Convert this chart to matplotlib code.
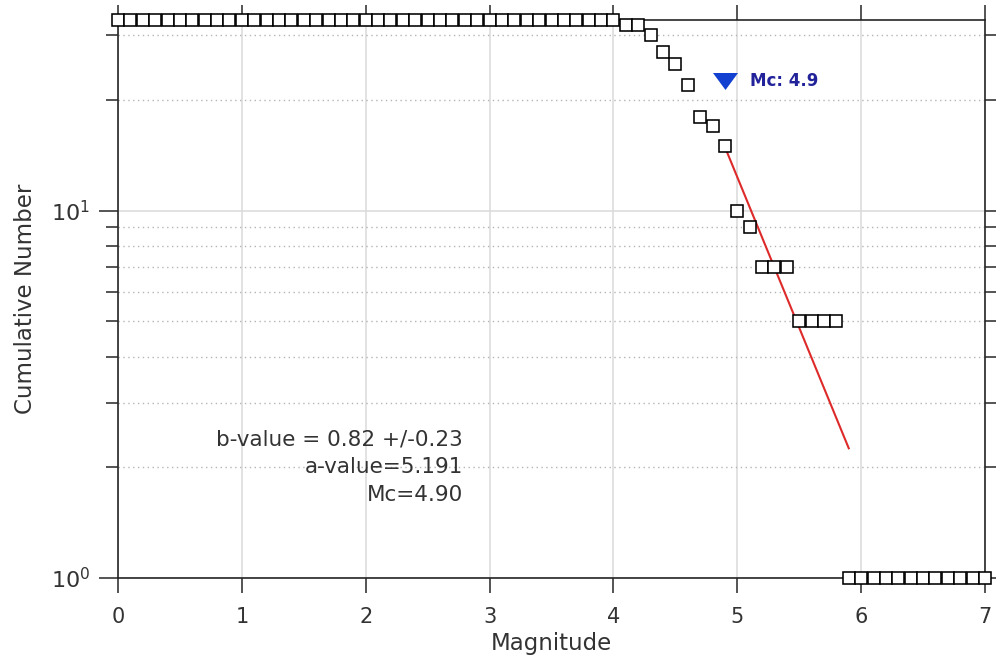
import numpy as np
import matplotlib
matplotlib.use("Agg")
import matplotlib.pyplot as plt
from matplotlib.ticker import LogLocator, NullFormatter, FixedLocator

# ---- data ----
magnitudes = np.round(np.linspace(0.0, 7.0, 71), 1)
cum_number = [33] * 41 + [32, 32, 30, 27, 25, 22, 18, 17, 15,
                          10, 9, 7, 7, 7, 5, 5, 5, 5] + [1] * 12
b_value = 0.82
b_err = 0.23
a_value = 5.191
mc = 4.90
fit_mag_range = [4.9, 5.9]
mc_marker_y = 22.5
x_ticks = [0, 1, 2, 3, 4, 5, 6, 7]

plt.rcParams['font.family'] = ['DejaVu Sans']
txt_col = '#333333'
ax_col = '#262626'

fig = plt.figure(figsize=(9.96, 6.65), dpi=100)
ax = fig.add_axes([118/996, 87/665, 867/996, 558/665])
ax.set_yscale('log')
ax.set_xlim(0, 7)
ax.set_ylim(1, 33)

# grid
ax.xaxis.set_major_locator(FixedLocator(x_ticks))
ax.yaxis.set_major_locator(LogLocator(base=10, numticks=10))
ax.yaxis.set_minor_locator(LogLocator(base=10, subs=np.arange(2, 10), numticks=20))
ax.yaxis.set_minor_formatter(NullFormatter())
ax.grid(True, which='major', axis='both', color='#dadada', linewidth=1.1, linestyle='-')
ax.grid(True, which='minor', axis='y', color='#b5b5b5', linewidth=1.0, linestyle=(0, (1, 2.5)))
ax.set_axisbelow(True)

# data
ax.plot(magnitudes, cum_number, linestyle='none', marker='s', markersize=9.2,
        markerfacecolor='white', markeredgecolor='black', markeredgewidth=1.15,
        clip_on=False, zorder=4)

fit_x = np.array(fit_mag_range)
fit_y = 10 ** (a_value - b_value * fit_x)
ax.plot(fit_x, fit_y, color='#dd2a2a', linewidth=1.5, zorder=3)

tri = [(-1, 0.68), (1, 0.68), (0, -0.68)]
ax.plot([mc], [mc_marker_y], linestyle='none', marker=tri, markersize=18,
        color='#1240d0', markeredgewidth=0, zorder=5)
ax.text(5.1, mc_marker_y, 'Mc: %.1f' % mc, color='#22229a', fontsize=12,
        fontweight='bold', ha='left', va='center')

ax.text(2.785, 2.38, 'b-value = %.2f +/-%.2f' % (b_value, b_err), fontsize=15.5,
        color=txt_col, ha='right', va='center')
ax.text(2.785, 2.0, 'a-value=%.3f' % a_value, fontsize=15.5,
        color=txt_col, ha='right', va='center')
ax.text(2.785, 1.686, 'Mc=%.2f' % mc, fontsize=15.5,
        color=txt_col, ha='right', va='center')

# axes styling
for s in ax.spines.values():
    s.set_color(ax_col)
    s.set_linewidth(1.2)
ax.tick_params(axis='x', which='major', direction='out', length=11, width=1.1,
               color=ax_col, labelsize=15, labelcolor=txt_col, pad=10,
               top=True, bottom=True)
ax.tick_params(axis='y', which='major', direction='out', length=14, width=1.1,
               color=ax_col, labelsize=16, labelcolor=txt_col, pad=6,
               left=True, right=True)
ax.tick_params(axis='y', which='minor', direction='out', length=8.5, width=1.1,
               color=ax_col, left=True, right=True)

ax.set_xlabel('Magnitude', fontsize=16.5, color=txt_col, va='center')
ax.xaxis.set_label_coords(0.5, -0.1165)
ax.set_ylabel('Cumulative Number', fontsize=16.5, color=txt_col, va='center')
ax.yaxis.set_label_coords(-0.107, 0.5)

fig.savefig('out.png', dpi=100, facecolor='white')
